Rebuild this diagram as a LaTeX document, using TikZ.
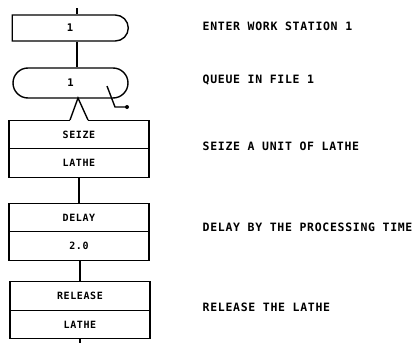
\documentclass[tikz,border=0pt]{standalone}
\usepackage{fontspec}
\newfontfamily\plotfont[LetterSpace=6]{DejaVu Sans Mono}
\usetikzlibrary{shapes.misc,positioning}

\begin{document}
\begin{tikzpicture}[x=1pt, y=-1pt, line width=1.4pt,
    every node/.style={font=\plotfont\bfseries\fontsize{11.5}{13}\selectfont},
    cell/.style={draw, minimum width=140pt, minimum height=28.5pt, inner sep=0pt,
        outer sep=0pt, font=\plotfont\bfseries\fontsize{10}{12}\selectfont},
    note/.style={anchor=west, inner sep=0pt}]
    \useasboundingbox (0,0) rectangle (418,343);

    % blocks
    \node[draw, rounded rectangle, rounded rectangle left arc=none, minimum width=116pt,
        minimum height=26pt, inner sep=0pt, font=\plotfont\bfseries\fontsize{10.5}{12}\selectfont] (enter) at (70,28) {1};
    \node[draw, rounded rectangle, minimum width=115pt, minimum height=30pt, inner sep=0pt,
        font=\plotfont\bfseries\fontsize{10.5}{12}\selectfont] (queue) at (70.5,83) {1};
    \node[cell] (seize) at (79,134.5) {SEIZE};
    \node[cell, below=0pt of seize] (seizeres) {LATHE};
    \node[cell] (delay) at (79,217.5) {DELAY};
    \node[cell, below=0pt of delay] (delaytime) {2.0};
    \node[cell] (release) at (80,296) {RELEASE};
    \node[cell, below=0pt of release] (releaseres) {LATHE};

    % connectors
    \coordinate (in) at (77,8);
    \coordinate (apex) at (78,98);
    \coordinate (vl) at (70,120);
    \coordinate (vr) at (88,120);
    \coordinate (qa) at (107,86);
    \coordinate (qb) at (115,107);
    \coordinate (tail) at (127,107);
    \coordinate (out) at (80,343);
    \draw (in) -- (in |- enter.north);
    \draw (enter.south -| in) -- (queue.north -| in);
    \draw[white, line width=2pt] (vl) -- (vr);
    \draw (vl) -- (apex) -- (vr);
    \draw (qa) -- (qb) -- (tail);
    \fill (tail) circle (2pt);
    \draw (seizeres) -- (delay);
    \draw (delaytime.south -| out) -- (release.north -| out);
    \draw (releaseres) -- (out);

    % comments
    \node[note] (tenter) at (202,26) {ENTER WORK STATION 1};
    \node[note] (tqueue) at (202,80) {QUEUE IN FILE 1};
    \node[note] (tseize) at (202,146) {SEIZE A UNIT OF LATHE};
    \node[note] (tdelay) at (202,227) {DELAY BY THE PROCESSING TIME};
    \node[note] (trelease) at (202,307) {RELEASE THE LATHE};
\end{tikzpicture}
\end{document}
